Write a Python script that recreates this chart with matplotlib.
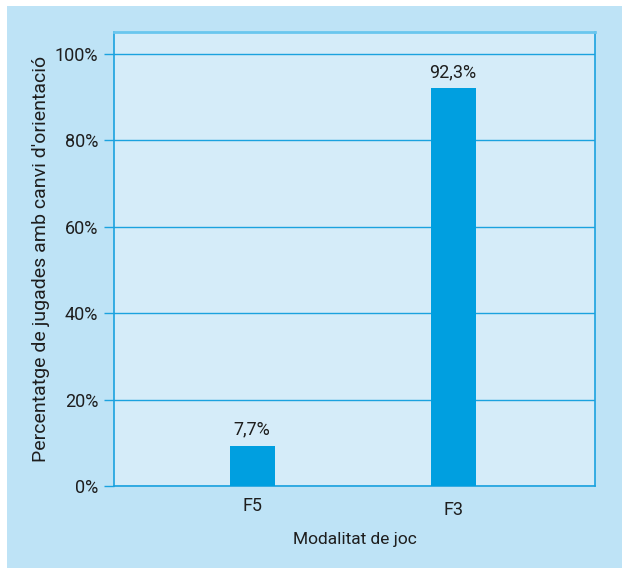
import matplotlib.pyplot as plt
import matplotlib.transforms as mtransforms
from matplotlib.patches import Rectangle
import numpy as np

plt.rcParams['font.family'] = ['Roboto', 'DejaVu Sans']

# data
categories = ['F5', 'F3']
bar_heights = [9.3, 92.0]
value_labels = ['7,7%', '92,3%']
yticks = [0, 20, 40, 60, 80, 100]
ytick_labels = ['0%', '20%', '40%', '60%', '80%', '100%']

outer_bg = '#bee3f6'
inner_bg = '#d5ecf9'
bar_color = '#009fe0'
line_color = '#1ba2df'
text_color = '#1e1e1e'

fig = plt.figure(figsize=(6.22, 5.68), dpi=100)
fig.patch.set_facecolor('white')
fig.patches.append(Rectangle((7 / 622, 0), 1 - 7 / 622, 1 - 6 / 568,
                             transform=fig.transFigure, facecolor=outer_bg,
                             edgecolor='none', zorder=-10))

ax = fig.add_axes([114 / 622, 1 - 486 / 568, (595 - 114) / 622, (486 - 32) / 568])
ax.set_facecolor(inner_bg)

x = np.arange(len(categories))
ax.bar(x, bar_heights, width=0.224, color=bar_color, zorder=3)

for xi, h, lab in zip(x, bar_heights, value_labels):
    ax.annotate(lab, (xi, h), xytext=(0, 5), textcoords='offset points',
                ha='center', va='bottom', fontsize=13, color=text_color)

ax.set_xlim(-0.687, 1.706)
ax.set_ylim(0, 105)
ax.set_yticks(yticks)
ax.set_yticklabels(ytick_labels)
ax.set_xticks(x)
ax.set_xticklabels(categories)

ax.grid(axis='y', color=line_color, linewidth=1, zorder=1)
ax.set_axisbelow(True)

ax.tick_params(axis='y', direction='out', length=7.5, width=1, color=line_color,
               labelsize=13, labelcolor=text_color, pad=4)
ax.tick_params(axis='x', length=0, labelsize=13, labelcolor=text_color, pad=8)

# F3 label sits a little lower in the original
lbls = ax.get_xticklabels()
lbls[1].set_transform(lbls[1].get_transform() +
                      mtransforms.ScaledTranslation(0, -3 / 72, fig.dpi_scale_trans))

for side in ['left', 'right', 'bottom']:
    ax.spines[side].set_color(line_color)
    ax.spines[side].set_linewidth(1.2)
ax.spines['top'].set_color('#6ac6ee')
ax.spines['top'].set_linewidth(2)

ax.set_ylabel("Percentatge de jugades amb canvi d'orientació", fontsize=14,
              color=text_color, labelpad=3)
ax.set_xlabel('Modalitat de joc', fontsize=12.5, color=text_color, labelpad=9)

fig.savefig('out.png', dpi=100)
